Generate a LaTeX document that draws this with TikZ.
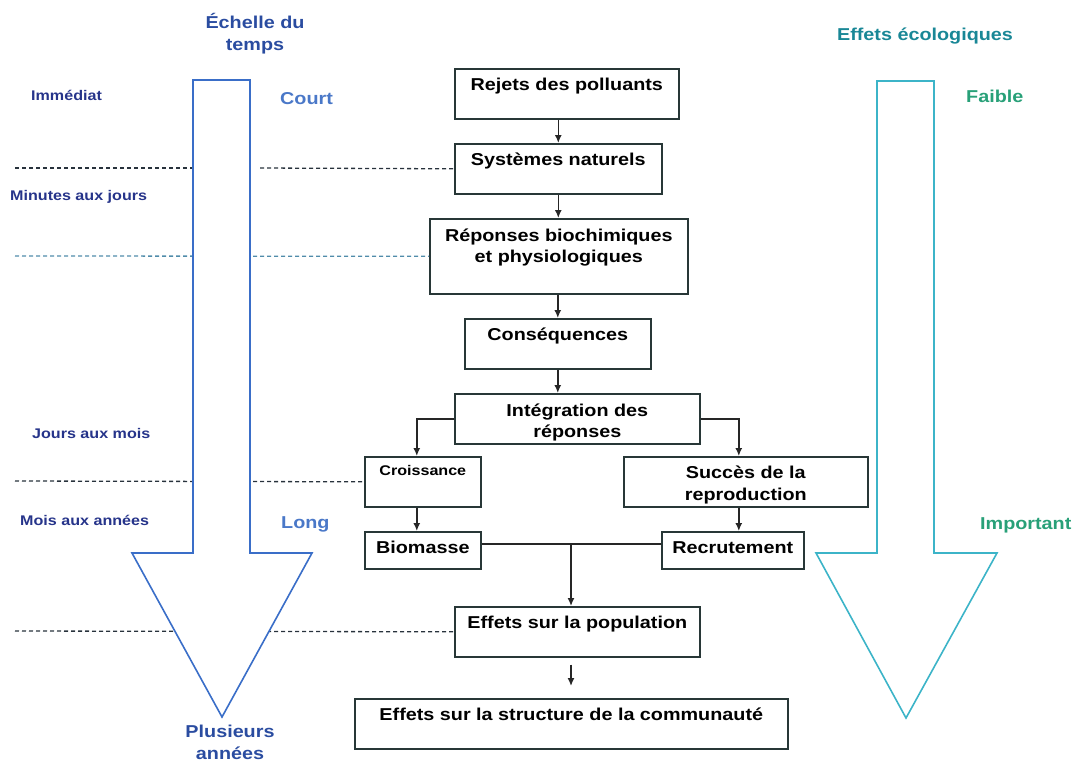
\documentclass[tikz,border=0pt]{standalone}
\usepackage{fontspec}
\newfontfamily\diagfont{Liberation Sans}[FakeStretch=1.15]
\usepackage{xcolor}
\usetikzlibrary{arrows.meta}
\usetikzlibrary{calc}
\definecolor{mynavy}{RGB}{38,52,138}
\definecolor{mytitle}{RGB}{42,76,160}
\definecolor{myshort}{RGB}{74,120,200}
\definecolor{myblue}{RGB}{58,110,200}
\definecolor{mycyan}{RGB}{60,180,200}
\definecolor{myteal}{RGB}{25,135,150}
\definecolor{mygreen}{RGB}{40,160,120}
\definecolor{myframe}{RGB}{40,55,55}
\definecolor{mydash}{RGB}{40,50,60}
\definecolor{mydashb}{RGB}{80,140,170}

\begin{document}
\begin{tikzpicture}[x=1pt,y=-1pt,
 box/.style={draw=myframe, line width=1.6, fill=white, inner sep=0pt, anchor=north west, align=center,
  text height=22pt, text depth=28pt, font=\diagfont\bfseries\fontsize{17.2}{21.5}\selectfont},
 link/.style={-{Latex[length=8pt,width=7pt]}, line width=1.4, color=black!85},
 sep/.style={line width=1.3, dash pattern=on 4pt off 3pt},
 timelab/.style={anchor=base west, inner sep=0pt, color=mynavy, font=\diagfont\bfseries\fontsize{14}{17}\selectfont},
 shortlab/.style={anchor=base west, inner sep=0pt, color=myshort, font=\diagfont\bfseries\fontsize{17.2}{21.5}\selectfont},
 ecolab/.style={anchor=base west, inner sep=0pt, color=mygreen, font=\diagfont\bfseries\fontsize{17.2}{21.5}\selectfont},
 titlelab/.style={anchor=base, inner sep=0pt, align=center, font=\diagfont\bfseries\fontsize{17.2}{22}\selectfont}]
\useasboundingbox (0,0) rectangle (1076,764);

%chain of effects (two-line boxes: text height counts from the last line)
\node[box, minimum width=224] (rejets) at (454,68) {Rejets des polluants};
\node[box, minimum width=207] (sys) at (454,143) {Systèmes naturels};
\node[box, minimum width=258, text height=44pt, text depth=31pt] (resp) at (429,218) {Réponses biochimiques\\et physiologiques};
\node[box, minimum width=186] (conseq) at (464,318) {Conséquences};
\node[box, minimum width=245, text height=44pt, text depth=6pt] (integ) at (454,393) {Intégration des\\réponses};
\node[box, minimum width=116, text height=19pt, text depth=31pt, font=\diagfont\bfseries\fontsize{14}{17}\selectfont] (crois) at (364,456) {Croissance};
\node[box, minimum width=244, text height=43.5pt, text depth=6.5pt] (succes) at (623,456) {Succès de la\\reproduction};
\node[box, minimum width=116, text depth=15pt] (biom) at (364,531) {Biomasse};
\node[box, minimum width=142, text depth=15pt] (recru) at (661,531) {Recrutement};
\node[box, minimum width=245] (pop) at (454,606) {Effets sur la population};
\node[box, minimum width=433] (struct) at (354,698) {Effets sur la structure de la communauté};

%links
\draw[link] (rejets.south -| sys.north) -- (sys.north);
\draw[link] (sys.south) -- (sys.south |- resp.north);
\draw[link] (resp.south -| conseq.north) -- (conseq.north);
\draw[link] (conseq.south) -- (conseq.south |- integ.north);
\draw[link] (integ.west) -| ([xshift=-6pt]crois.north);
\draw[link] (integ.east) -| ([xshift=-7pt]succes.north);
\draw[link] ([xshift=-6pt]crois.south) -- ([xshift=-6pt]biom.north);
\draw[link] ([xshift=-7pt]succes.south) -- ([xshift=-7pt]succes.south |- recru.north);
\coordinate (jn) at (571,544);
\draw[line width=1.4, color=black!85] (biom.east |- jn) -- (recru.west |- jn);
\draw[link] (jn) -- (jn |- pop.north);
\draw[link] ($(pop.south -| jn)+(0,7)$) -- ($(struct.north -| jn)+(0,-12)$);

%time limits
\draw[sep, color=mydash] (15,168) -- (193,168);
\draw[sep, color=mydash] (260,168) -- (sys.west);
\draw[sep, color=mydashb] (15,256) -- (resp.west);
\draw[sep, color=mydash] (15,481) -- (crois.west);
\draw[sep, color=mydash] (15,631) -- (pop.west);

%big arrows
\draw[color=myblue, line width=1.6, fill=white] (193,80) -- (250,80) -- (250,553) -- (312,553) -- (222,717) -- (132,553) -- (193,553) -- cycle;
\draw[color=mycyan, line width=1.6, fill=white] (877,81) -- (934,81) -- (934,553) -- (997,553) -- (906,718) -- (816,553) -- (877,553) -- cycle;

%labels (anchor base = last line)
\node[titlelab, color=mytitle] (timetitle) at (255,50) {Échelle du\\temps};
\node[titlelab, color=mytitle] (plusieurs) at (230,759) {Plusieurs\\années};
\node[titlelab, color=myteal] (ecotitle) at (925,40) {Effets écologiques};
\node[timelab] (immed) at (31,100) {Immédiat};
\node[timelab] (minjours) at (10,200) {Minutes aux jours};
\node[timelab] (joursmois) at (32,438) {Jours aux mois};
\node[timelab] (moisans) at (20,525) {Mois aux années};
\node[shortlab] (court) at (280,104) {Court};
\node[shortlab] (long) at (281,528) {Long};
\node[ecolab] (faible) at (966,102) {Faible};
\node[ecolab] (important) at (980,529) {Important};

\end{tikzpicture}
\end{document}
